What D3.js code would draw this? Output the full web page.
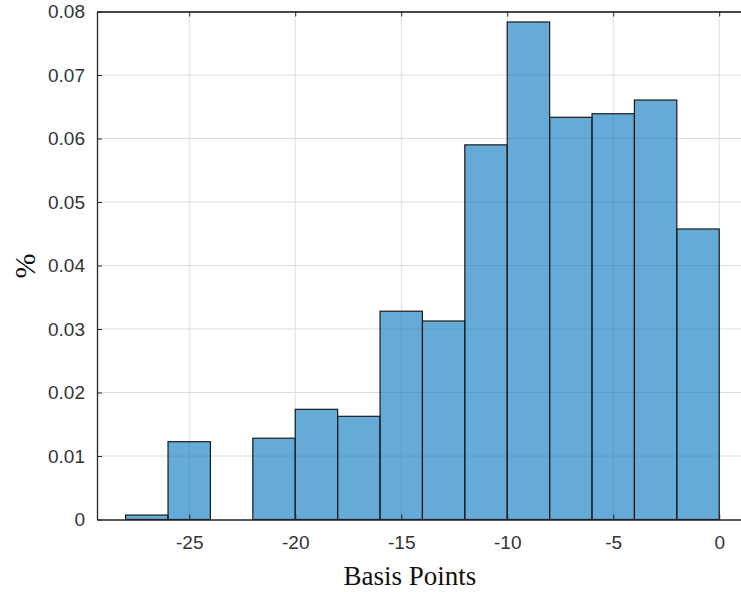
<!DOCTYPE html>
<html lang="en">
<head>
<meta charset="UTF-8">
<title>Histogram</title>
<script src="https://d3js.org/d3.v7.min.js"></script>
<style>
  body { margin: 0; background: #fff; }
  svg { display: block; }
</style>
</head>
<body>
<svg width="741" height="592"></svg>
<script>
// bin edges (basis points) and bar heights (%)
var binStart = [-28, -26, -24, -22, -20, -18, -16, -14, -12, -10, -8, -6, -4, -2];
var binWidth = 2;
var values = [0.0007, 0.01225, 0, 0.0128, 0.01735, 0.01625, 0.0328, 0.03126, 0.059, 0.07835, 0.06334, 0.0639, 0.06606, 0.04575];
var xTicks = [-25, -20, -15, -10, -5, 0];
var yTicks = [0, 0.01, 0.02, 0.03, 0.04, 0.05, 0.06, 0.07, 0.08];

var svg = d3.select("svg");
var plotLeft = 97, plotTop = 11.5, plotBottom = 519.5;

var x = d3.scaleLinear().domain([-29.35, 1.5]).range([plotLeft, plotLeft + 30.85 * 21.2]);
var y = d3.scaleLinear().domain([0, 0.08]).range([plotBottom, plotTop]);

var axisColor = "#262626";
var tickFont = "'Liberation Sans', Arial, sans-serif";

// grid
svg.append("g").selectAll("line")
  .data(xTicks).enter().append("line")
  .attr("x1", d => x(d)).attr("x2", d => x(d))
  .attr("y1", plotTop).attr("y2", plotBottom)
  .attr("stroke", "#dedede").attr("stroke-width", 1);
svg.append("g").selectAll("line")
  .data(yTicks.slice(1)).enter().append("line")
  .attr("x1", plotLeft).attr("x2", 741)
  .attr("y1", d => y(d)).attr("y2", d => y(d))
  .attr("stroke", "#dedede").attr("stroke-width", 1);

// bars
svg.append("g").selectAll("rect")
  .data(values.map((v, i) => ({x0: binStart[i], v: v})).filter(d => d.v > 0))
  .enter().append("rect")
  .attr("x", d => x(d.x0))
  .attr("width", d => x(d.x0 + binWidth) - x(d.x0))
  .attr("y", d => y(d.v))
  .attr("height", d => y(0) - y(d.v))
  .attr("fill", "#0072BD").attr("fill-opacity", 0.6)
  .attr("stroke", "#1a1a1a").attr("stroke-width", 1.2);

// bottom axis (ticks inside)
var xAxis = svg.append("g").attr("transform", "translate(0," + plotBottom + ")")
  .call(d3.axisBottom(x).tickValues(xTicks).tickSizeInner(-5).tickSizeOuter(0).tickPadding(16).tickFormat(d => String(d)));
xAxis.select(".domain").attr("stroke", axisColor).attr("stroke-width", 1.3);
xAxis.selectAll(".tick line").attr("stroke", axisColor);
xAxis.selectAll("text").attr("fill", "#333").style("font-family", tickFont).style("font-size", "19px");

// top axis
var xTop = svg.append("g").attr("transform", "translate(0," + plotTop + ")")
  .call(d3.axisTop(x).tickValues(xTicks).tickSizeInner(-5).tickSizeOuter(0).tickFormat(""));
xTop.select(".domain").attr("stroke", "#111").attr("stroke-width", 1.3);
xTop.selectAll(".tick line").attr("stroke", axisColor);

// left axis
var yAxis = svg.append("g").attr("transform", "translate(" + plotLeft + ",0)")
  .call(d3.axisLeft(y).tickValues(yTicks).tickSizeInner(-5).tickSizeOuter(0).tickPadding(12)
    .tickFormat(d => d === 0 ? "0" : d3.format(".2f")(d)));
yAxis.select(".domain").attr("stroke", axisColor).attr("stroke-width", 1.3);
yAxis.selectAll(".tick line").attr("stroke", axisColor);
yAxis.selectAll("text").attr("fill", "#333").style("font-family", tickFont).style("font-size", "19px");

// labels
svg.append("text")
  .attr("x", 410).attr("y", 585)
  .attr("text-anchor", "middle")
  .style("font-family", "'Liberation Serif', 'Times New Roman', serif")
  .style("font-size", "27px").attr("fill", "#111")
  .text("Basis Points");

svg.append("text")
  .attr("transform", "translate(35,266) rotate(-90)")
  .attr("text-anchor", "middle")
  .style("font-family", "'Liberation Serif', 'Times New Roman', serif")
  .style("font-size", "30px").attr("fill", "#111")
  .text("%");
</script>
</body>
</html>
